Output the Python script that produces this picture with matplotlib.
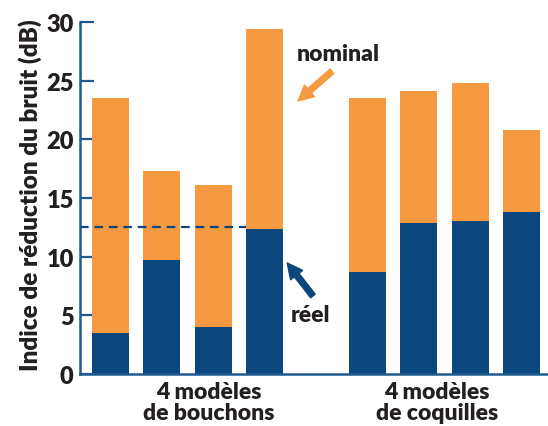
import matplotlib
matplotlib.use("Agg")
import matplotlib.pyplot as plt

# Data
positions = [0, 1, 2, 3, 5, 6, 7, 8]
nominal = [23.5, 17.3, 16.1, 29.4, 23.5, 24.1, 24.8, 20.8]
reel = [3.5, 9.7, 4.0, 12.4, 8.7, 12.9, 13.0, 13.8]
group_labels = [("4 modèles", "de bouchons"), ("4 modèles", "de coquilles")]
group_label_x = [1.92, 6.35]
yticks = [0, 5, 10, 15, 20, 25, 30]
dashed_level = 12.5

ORANGE = "#F59A40"
BLUE = "#0B477C"
AXIS = "#1F5A8E"
TEXT = "#231F20"
WT = 'heavy'

plt.rcParams['font.family'] = ['Lato', 'DejaVu Sans']

fig = plt.figure(figsize=(5.48, 4.27), dpi=100)
W, H = 548, 427
ax = fig.add_axes([80 / W, 52 / H, (548 - 80) / W, (375 - 23) / H])

bw = 0.72
ax.bar(positions, nominal, width=bw, color=ORANGE, zorder=2)
ax.bar(positions, reel, width=bw, color=BLUE, zorder=3)

ax.set_xlim(-0.594, 8.516)
ax.set_ylim(0, 30)

for s in ['top', 'right']:
    ax.spines[s].set_visible(False)
for s in ['left', 'bottom']:
    ax.spines[s].set_color(AXIS)
    ax.spines[s].set_linewidth(1.8)
    ax.spines[s].set_zorder(5)

ax.set_xticks([])
ax.set_yticks(yticks)
ax.set_yticklabels([str(v) for v in yticks])
ax.tick_params(axis='y', direction='in', length=10, width=1.6, color=AXIS,
               pad=4.5, labelsize=17, labelcolor=TEXT)
for t in ax.get_yticklabels():
    t.set_fontweight(WT)

# dashed line
ax.plot([-0.594, 3 - bw / 2], [dashed_level, dashed_level], color=BLUE,
        lw=1.6, dashes=(3.9, 2.6), zorder=4, clip_on=False)

# y label
fig.text(30 / W, 1 - 195 / H, "Indice de réduction du bruit (dB)", rotation=90,
         ha='center', va='center', fontsize=17.5, fontweight=WT, color=TEXT)

# group labels
for gx, (l1, l2) in zip(group_label_x, group_labels):
    ax.text(gx, -0.051, l1, transform=ax.get_xaxis_transform(), ha='center',
            va='center', fontsize=16.5, fontweight=WT, color=TEXT)
    ax.text(gx, -0.110, l2, transform=ax.get_xaxis_transform(), ha='center',
            va='center', fontsize=16.5, fontweight=WT, color=TEXT)

# annotations
ax.text(4.43, 27.3, "nominal", ha='center', va='center', fontsize=16.5,
        fontweight=WT, color=TEXT)
ax.annotate('', xy=(3.65, 23.27), xytext=(4.31, 25.8),
            arrowprops=dict(arrowstyle='simple,head_length=1.0,head_width=1.0,tail_width=0.38',
                            color=ORANGE, shrinkA=0, shrinkB=0, mutation_scale=11))
ax.text(3.90, 5.11, "réel", ha='center', va='center', fontsize=16.5,
        fontweight=WT, color=TEXT)
ax.annotate('', xy=(3.44, 9.46), xytext=(3.94, 6.65),
            arrowprops=dict(arrowstyle='simple,head_length=1.0,head_width=1.0,tail_width=0.38',
                            color=BLUE, shrinkA=0, shrinkB=0, mutation_scale=11))

fig.savefig("out.png", dpi=100)
